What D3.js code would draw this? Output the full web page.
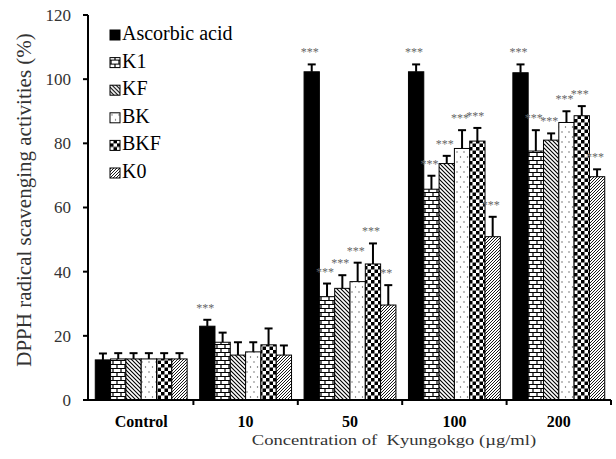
<html>
<head>
<meta charset="utf-8"/>
<title>DPPH radical scavenging</title>
<style>
body { margin: 0; background: #fff; }
text { font-family: "Liberation Serif", "Times New Roman", serif; }
</style>
</head>
<body>
<div id="chart"></div>
<script src="https://d3js.org/d3.v7.min.js"></script>
<script>
// data
var categories = ["Control", "10", "50", "100", "200"]
var seriesNames = ["Ascorbic acid", "K1", "KF", "BK", "BKF", "K0"]
var ascorbic = [12.5, 23.0, 102.3, 102.3, 102.0]
var k1  = [12.8, 18.0, 32.2, 65.7, 77.6]
var kf  = [12.8, 14.0, 34.8, 73.7, 81.0]
var bk  = [12.8, 15.0, 36.9, 78.4, 86.5]
var bkf = [12.8, 17.2, 42.4, 80.7, 88.6]
var k0  = [12.8, 14.0, 29.6, 50.9, 69.6]
var errAscorbic = [2.0, 2.0, 2.3, 2.3, 2.6]
var errK1  = [1.8, 3.0, 4.1, 4.2, 6.5]
var errKF  = [1.8, 4.0, 4.1, 2.4, 2.1]
var errBK  = [1.8, 3.0, 5.9, 5.7, 3.5]
var errBKF = [1.8, 5.1, 6.4, 4.1, 3.0]
var errK0  = [1.8, 3.0, 6.2, 6.2, 2.3]
var starsAscorbic = ["", "***", "***", "***", "***"]
var starsK1  = ["", "", "***", "***", "***"]
var starsKF  = ["", "", "***", "***", "***"]
var starsBK  = ["", "", "***", "***", "***"]
var starsBKF = ["", "", "***", "***", "***"]
var starsK0  = ["", "", "**", "***", "***"]
var yTicks = [0, 20, 40, 60, 80, 100, 120]

var values = [ascorbic, k1, kf, bk, bkf, k0]
var errors = [errAscorbic, errK1, errKF, errBK, errBKF, errK0]
var stars = [starsAscorbic, starsK1, starsKF, starsBK, starsBKF, starsK0]
var fills = ["#000", "url(#brick)", "url(#diagBack)", "url(#dots)", "url(#checker)", "url(#diagFwd)"]

var rows = []
categories.forEach(function(c, ci) {
  seriesNames.forEach(function(s, si) {
    rows.push({cat: c, series: s, si: si, value: values[si][ci], err: errors[si][ci], star: stars[si][ci]})
  })
})

var width = 616, height = 459

var svg = d3.select("#chart").append("svg")
  .attr("width", width)
  .attr("height", height)

// fill patterns
var defs = svg.append("defs")
var brick = defs.append("pattern").attr("id", "brick")
  .attr("patternUnits", "userSpaceOnUse").attr("width", 8).attr("height", 8)
brick.append("rect").attr("width", 8).attr("height", 8).attr("fill", "#fff")
brick.append("path").attr("d", "M0,0.5H8M0,4.5H8M1,0.5V4.5M5,4.5V8.5")
  .attr("stroke", "#000").attr("stroke-width", 1.2)

var diagBack = defs.append("pattern").attr("id", "diagBack")
  .attr("patternUnits", "userSpaceOnUse").attr("width", 4).attr("height", 4)
diagBack.append("rect").attr("width", 4).attr("height", 4).attr("fill", "#fff")
diagBack.append("path").attr("d", "M-1,-1L5,5M3,-1L5,1M-1,3L1,5")
  .attr("stroke", "#000").attr("stroke-width", 1.1)

var diagFwd = defs.append("pattern").attr("id", "diagFwd")
  .attr("patternUnits", "userSpaceOnUse").attr("width", 3).attr("height", 3)
diagFwd.append("rect").attr("width", 3).attr("height", 3).attr("fill", "#fff")
diagFwd.append("path").attr("d", "M-1,4L4,-1M-1,1L1,-1M2,4L4,2")
  .attr("stroke", "#000").attr("stroke-width", 0.9)

var dots = defs.append("pattern").attr("id", "dots")
  .attr("patternUnits", "userSpaceOnUse").attr("width", 7).attr("height", 10)
dots.append("rect").attr("width", 7).attr("height", 10).attr("fill", "#fff")
dots.append("circle").attr("cx", 2).attr("cy", 2).attr("r", 0.7).attr("fill", "#555")
dots.append("circle").attr("cx", 5.5).attr("cy", 7).attr("r", 0.7).attr("fill", "#555")

var checker = defs.append("pattern").attr("id", "checker")
  .attr("patternUnits", "userSpaceOnUse").attr("width", 7).attr("height", 7)
checker.append("rect").attr("width", 7).attr("height", 7).attr("fill", "#fff")
checker.append("rect").attr("width", 3.5).attr("height", 3.5).attr("fill", "#000")
checker.append("rect").attr("x", 3.5).attr("y", 3.5).attr("width", 3.5).attr("height", 3.5).attr("fill", "#000")

// scales
var x = d3.scaleBand()
  .domain(categories)
  .range([89, 611])
  .paddingInner(0.12)
  .paddingOuter(0.06)

var xs = d3.scaleBand()
  .domain(seriesNames)
  .range([0, x.bandwidth()])

var y = d3.scaleLinear()
  .domain([0, 120])
  .range([400, 15])

// bars
var bars = svg.append("g")
bars.selectAll("rect")
  .data(rows)
  .enter()
  .append("rect")
    .attr("x", function(d) { return x(d.cat) + xs(d.series) })
    .attr("y", function(d) { return y(d.value) })
    .attr("width", xs.bandwidth())
    .attr("height", function(d) { return y(0) - y(d.value) })
    .attr("fill", function(d) { return fills[d.si] })
    .attr("stroke", "#000")
    .attr("stroke-width", 1)

// error bars (upper only)
var eb = svg.append("g").attr("stroke", "#000").attr("stroke-width", 2)
eb.selectAll("line.v")
  .data(rows)
  .enter()
  .append("line")
    .attr("x1", function(d) { return x(d.cat) + xs(d.series) + xs.bandwidth() / 2 })
    .attr("x2", function(d) { return x(d.cat) + xs(d.series) + xs.bandwidth() / 2 })
    .attr("y1", function(d) { return y(d.value) })
    .attr("y2", function(d) { return y(d.value + d.err) })
eb.selectAll("line.cap")
  .data(rows)
  .enter()
  .append("line")
    .attr("x1", function(d) { return x(d.cat) + xs(d.series) + xs.bandwidth() / 2 - 4 })
    .attr("x2", function(d) { return x(d.cat) + xs(d.series) + xs.bandwidth() / 2 + 4 })
    .attr("y1", function(d) { return y(d.value + d.err) })
    .attr("y2", function(d) { return y(d.value + d.err) })

// significance stars
svg.append("g").selectAll("text")
  .data(rows.filter(function(d) { return d.star !== "" }))
  .enter()
  .append("text")
    .attr("x", function(d) { return x(d.cat) + xs(d.series) + xs.bandwidth() / 2 - 2 })
    .attr("y", function(d) { return y(d.value + d.err) - 8 })
    .attr("text-anchor", "middle")
    .attr("font-size", "12px")
    .attr("fill", "#666")
    .text(function(d) { return d.star })

// y axis
var yAxis = svg.append("g")
yAxis.append("line")
  .attr("x1", 88).attr("x2", 88)
  .attr("y1", y(120)).attr("y2", y(0))
  .attr("stroke", "#000").attr("stroke-width", 2)
yAxis.selectAll("line.tick")
  .data(yTicks)
  .enter()
  .append("line")
    .attr("x1", 83).attr("x2", 88)
    .attr("y1", function(d) { return y(d) })
    .attr("y2", function(d) { return y(d) })
    .attr("stroke", "#000").attr("stroke-width", 2)
yAxis.selectAll("text")
  .data(yTicks)
  .enter()
  .append("text")
    .attr("x", 71)
    .attr("y", function(d) { return y(d) })
    .attr("dy", "0.35em")
    .attr("text-anchor", "end")
    .attr("font-size", "17px")
    .attr("fill", "#333")
    .text(function(d) { return d })

// x axis
var xAxis = svg.append("g")
xAxis.append("line")
  .attr("x1", 87).attr("x2", 611)
  .attr("y1", y(0)).attr("y2", y(0))
  .attr("stroke", "#000").attr("stroke-width", 2)
var gap = x.step() * x.paddingInner() / 2
xAxis.selectAll("line.tick")
  .data(categories)
  .enter()
  .append("line")
    .attr("x1", function(d) { return x(d) + x.bandwidth() + gap })
    .attr("x2", function(d) { return x(d) + x.bandwidth() + gap })
    .attr("y1", y(0)).attr("y2", y(0) + 5)
    .attr("stroke", "#000").attr("stroke-width", 2)
xAxis.selectAll("text")
  .data(categories)
  .enter()
  .append("text")
    .attr("x", function(d) { return x(d) + x.bandwidth() / 2 })
    .attr("y", 427)
    .attr("text-anchor", "middle")
    .attr("font-size", "16px")
    .attr("font-weight", "bold")
    .text(function(d) { return d })

// axis titles
svg.append("text")
  .attr("transform", "translate(31,200) rotate(-90)")
  .attr("text-anchor", "middle")
  .attr("font-size", "21px")
  .attr("fill", "#333")
  .text("DPPH radical scavenging activities (%)")

svg.append("text")
  .attr("transform", "translate(394,445) scale(1.2,1)")
  .attr("text-anchor", "middle")
  .attr("font-size", "15.5px")
  .attr("fill", "#333")
  .style("white-space", "pre")
  .text("Concentration of  Kyungokgo (\u00b5g/ml)")

// legend
var legend = svg.append("g")
var item = legend.selectAll("g")
  .data(seriesNames)
  .enter()
  .append("g")
    .attr("transform", function(d, i) { return "translate(110," + (40 + 27.6 * i) + ")" })
item.append("rect")
  .attr("x", 0).attr("y", -10)
  .attr("width", 10).attr("height", 10)
  .attr("fill", function(d, i) { return fills[i] })
  .attr("stroke", "#000").attr("stroke-width", 1)
item.append("text")
  .attr("x", 12)
  .attr("y", 0)
  .attr("font-size", "20px")
  .text(function(d) { return d })
</script>
</body>
</html>
